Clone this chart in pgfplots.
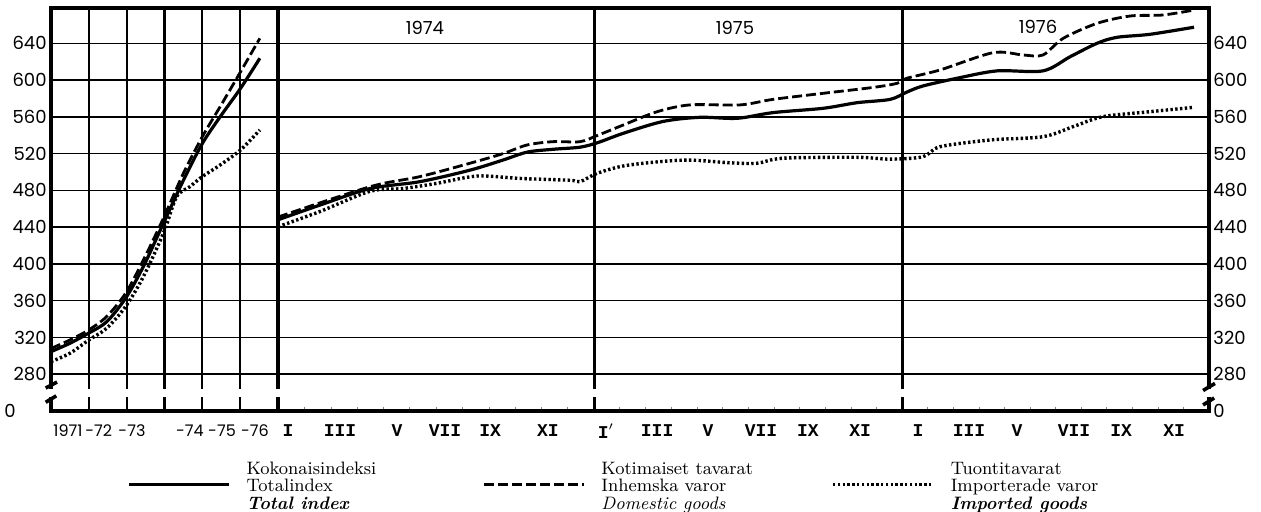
\documentclass[border=0pt]{standalone}
\usepackage{fontspec}
\setmonofont{Liberation Mono}
\newfontfamily\pop{Poppins}
\usepackage{pgfplots}
\usepackage{pgfplotstable}
\pgfplotsset{compat=1.18}

% ---------- annual panel (x: 0..6, one unit per year interval) ----------
\pgfplotstableread{
x y
0.00 304.6
0.50 313.7
0.99 324.6
1.47 337.0
1.97 362.6
2.44 397.0
2.97 444.0
3.50 491.0
4.00 531.0
4.47 560.0
5.01 591.0
5.52 623.7
}\annTotal
\pgfplotstableread{
x y
0.00 308.0
0.50 317.3
0.99 328.0
1.47 342.7
1.97 368.0
2.44 404.0
2.97 449.6
3.50 498.6
4.00 538.4
4.47 571.0
5.01 609.0
5.52 645.4
}\annDom
\pgfplotstableread{
x y
0.00 293.7
0.50 302.8
0.99 317.0
1.47 330.0
1.97 353.5
2.44 386.0
2.97 433.3
3.32 473.0
3.67 484.0
4.00 495.0
4.47 507.6
5.01 524.0
5.52 545.7
}\annImp

% ---------- monthly panel (x: months from Jan 1974) ----------
\pgfplotstableread{
x y
0.00 448.0
1.62 464.0
3.56 482.0
5.49 489.5
7.42 502.0
8.70 513.0
9.63 521.6
10.63 524.7
11.68 527.0
12.37 532.0
13.34 542.0
14.89 555.0
16.32 559.5
17.75 558.4
19.14 564.6
21.08 569.3
22.39 575.4
23.67 579.0
24.32 587.0
24.94 593.6
26.26 602.0
27.80 610.0
29.58 610.0
30.63 625.4
31.67 640.0
32.44 646.5
33.72 649.8
35.42 657.5
}\monTotal
\pgfplotstableread{
x y
0.00 451.0
3.56 484.0
5.49 495.0
7.42 509.5
8.70 520.0
9.63 529.4
10.63 533.0
11.68 533.0
12.37 540.0
13.34 551.0
14.66 565.6
15.93 573.0
17.87 573.0
19.14 579.0
21.08 585.6
23.01 592.0
23.94 596.5
24.32 602.0
25.60 611.0
27.65 629.8
28.81 627.3
29.58 627.3
30.36 645.4
31.67 661.7
32.95 669.7
34.22 670.8
35.42 676.2
}\monDom
\pgfplotstableread{
x y
0.00 440.5
1.62 457.0
3.56 479.0
4.83 482.0
6.15 487.7
7.70 495.6
9.36 493.0
11.29 491.0
11.68 489.5
12.34 498.6
13.34 506.5
14.66 511.0
15.93 513.0
17.48 510.0
18.52 509.5
19.53 515.0
22.39 516.0
23.67 514.0
24.94 516.6
25.60 527.5
27.53 534.8
29.58 538.4
30.74 549.3
31.90 560.2
33.72 565.6
35.42 570.4
}\monImp

\begin{document}
\begin{tikzpicture}
\useasboundingbox (0,0) rectangle (630.5pt,255.5pt);
\pgfplotsset{
  every axis/.append style={
    scale only axis, anchor=south west,
    ymin=240, ymax=678.4,
    axis line style={line width=1.6pt},
    major grid style={black, line width=0.75pt},
    clip=false,
  },
  tot/.style={black, line width=1.6pt, smooth},
  dom/.style={black, line width=1.4pt, dash pattern=on 5pt off 2pt, smooth},
  imp/.style={black, line width=1.7pt, dash pattern=on 1.2pt off 1.2pt, smooth},
}

% ================= annual panel =================
\begin{axis}[
  at={(25.5pt,50pt)}, width=113.5pt, height=201.5pt,
  xmin=0, xmax=6,
  xtick={0.45,1.26,2.14,3.67,4.52,5.39},
  xticklabels={1971,-72,-73,-74,-75,-76},
  xticklabel style={font=\pop\fontsize{8}{8}\selectfont, anchor=center, yshift=-10pt},
  extra x ticks={1,2,3,4,5},
  extra x tick labels={},
  extra x tick style={grid=major, major grid style={black, line width=1.1pt}},
  ytick={280,320,...,640},
  yticklabels={280,320,360,400,440,480,520,560,600,640},
  yticklabel style={font=\pop\fontsize{9}{9}\selectfont, inner sep=2pt},
  ymajorgrids,
  major tick length=0pt,
]
\addplot[tot] table {\annTotal};
\addplot[dom] table {\annDom};
\addplot[imp] table {\annImp};
\fill[white] (axis cs:-0.3,255.4) rectangle (axis cs:6.3,264.1);
\draw[line width=1.8pt] (axis cs:-0.14,265) -- (axis cs:0.16,271.5);
\draw[line width=1.8pt] (axis cs:-0.14,249.5) -- (axis cs:0.14,256.5);
\node[font=\pop\fontsize{9}{9}\selectfont] at (axis cs:-1.08,240.5) {0};
\end{axis}

% ================= monthly panel =================
\begin{axis}[
  at={(139pt,50pt)}, width=465.5pt, height=201.5pt,
  xmin=0, xmax=36,
  xtick={0.39,2.40,4.60,6.46,8.20,10.44,12.68,14.66,16.63,18.68,20.49,22.51,24.75,26.72,28.58,30.78,32.60,34.65},
  xticklabels={I,III,V,VII,IX,XI,I$^{\prime}$,III,V,VII,IX,XI,I,III,V,VII,IX,XI},
  xticklabel style={font=\ttfamily\bfseries\fontsize{9}{9}\selectfont, anchor=center, yshift=-10pt},
  minor xtick={1.02,2.04,3.05,4.07,5.09,6.11,7.13,8.15,9.16,10.18,11.20,
               13.21,14.21,15.20,16.19,17.18,18.18,19.17,20.16,21.15,22.15,23.14,
               25.12,26.11,27.10,28.09,29.08,30.07,31.06,32.04,33.03,34.02,35.01},
  minor tick length=2pt, tick align=inside,
  xtick pos=left, ytick pos=right,
  major tick length=0pt,
  extra x ticks={12.22,24.13},
  extra x tick labels={},
  extra x tick style={grid=major, major grid style={black, line width=1.5pt}},
  ytick={240,280,...,640},
  yticklabels={0,280,320,360,400,440,480,520,560,600,640},
  yticklabel pos=right,
  yticklabel style={font=\pop\fontsize{9}{9}\selectfont, inner sep=2pt},
  ymajorgrids,
  legend columns=3,
  legend cell align=left,
  legend style={at={(-0.1622,-0.183)}, anchor=west, draw=none, fill=none, inner sep=0pt,
     font=\fontsize{9}{8.4}\selectfont,
     /tikz/every odd column/.append style={column sep=6pt},
     cells={anchor=west}},
  legend image code/.code={\draw[#1] (0pt,0pt) -- (50pt,0pt);},
]
\addplot[tot] table {\monTotal};
\addlegendentry{\raisebox{6pt}{\makebox[116pt][l]{\begin{tabular}{@{}l@{}}Kokonaisindeksi\\Totalindex\\\textbf{\textit{Total index}}\end{tabular}}}}
\addplot[dom] table {\monDom};
\addlegendentry{\raisebox{6pt}{\makebox[113pt][l]{\begin{tabular}{@{}l@{}}Kotimaiset tavarat\\Inhemska varor\\\textit{Domestic goods}\end{tabular}}}}
\addplot[imp] table {\monImp};
\addlegendentry{\raisebox{6pt}{\makebox[110pt][l]{\begin{tabular}{@{}l@{}}Tuontitavarat\\Importerade varor\\\textbf{\textit{Imported goods}}\end{tabular}}}}
\fill[white] (axis cs:-0.3,255.4) rectangle (axis cs:36.3,264.1);
\draw[line width=1.8pt] (axis cs:35.77,262.3) -- (axis cs:36.23,270);
\draw[line width=1.8pt] (axis cs:35.77,246.6) -- (axis cs:36.2,254.2);
\node[font=\pop\fontsize{9}{9}\selectfont] at (axis cs:5.68,656.6) {1974};
\node[font=\pop\fontsize{9}{9}\selectfont] at (axis cs:17.67,656.6) {1975};
\node[font=\pop\fontsize{9}{9}\selectfont] at (axis cs:29.39,657.5) {1976};
\end{axis}
\end{tikzpicture}
\end{document}
